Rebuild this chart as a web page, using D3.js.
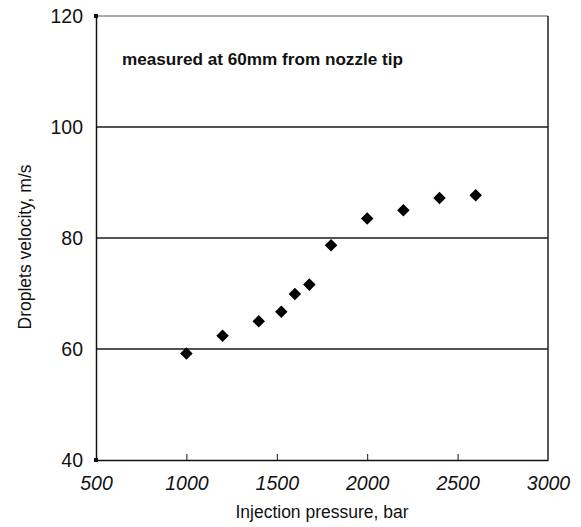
<!DOCTYPE html>
<html>
<head>
<meta charset="utf-8">
<script src="https://cdn.jsdelivr.net/npm/d3@7"></script>
<style>
  html, body { margin: 0; padding: 0; background: #fff; }
  svg { display: block; }
</style>
</head>
<body>
<svg id="chart" width="581" height="527"></svg>
<script>
// Droplet velocity vs injection pressure
const pressure = [1000, 1200, 1400, 1525, 1600, 1680, 1800, 2000, 2200, 2400, 2600];
const velocity = [59.2, 62.4, 65.0, 66.7, 69.9, 71.6, 78.7, 83.5, 85.0, 87.2, 87.7];
const xTicks = [500, 1000, 1500, 2000, 2500, 3000];
const yTicks = [40, 60, 80, 100, 120];
const gridValues = [60, 80, 100];
const note = "measured at 60mm from nozzle tip";
const xTitle = "Injection pressure, bar";
const yTitle = "Droplets velocity, m/s";

const svg = d3.select("#chart");
const plot = { left: 96, right: 548, top: 16, bottom: 460 };
const sans = "Liberation Sans, Arial, sans-serif";

const x = d3.scaleLinear().domain([500, 3000]).range([plot.left, plot.right]);
const y = d3.scaleLinear().domain([40, 120]).range([plot.bottom, plot.top]);

// horizontal grid lines
svg.append("g").selectAll("line").data(gridValues).join("line")
  .attr("x1", plot.left).attr("x2", plot.right)
  .attr("y1", d => y(d)).attr("y2", d => y(d))
  .attr("stroke", "#1a1a1a").attr("stroke-width", 1.4);

// plot frame: top and right
svg.append("line").attr("x1", plot.left).attr("x2", plot.right).attr("y1", plot.top).attr("y2", plot.top)
  .attr("stroke", "#555").attr("stroke-width", 1);
svg.append("line").attr("x1", plot.right).attr("x2", plot.right).attr("y1", plot.top).attr("y2", plot.bottom)
  .attr("stroke", "#222").attr("stroke-width", 1.5);

// x axis with inward ticks
const xAxis = d3.axisBottom(x).tickValues(xTicks).tickFormat(d3.format("d"))
  .tickSizeInner(-6).tickSizeOuter(0).tickPadding(13);
const gx = svg.append("g").attr("transform", `translate(0,${plot.bottom})`).call(xAxis);
gx.select(".domain").attr("stroke", "#111").attr("stroke-width", 1.5);
gx.selectAll(".tick line").attr("stroke", "#111").attr("stroke-width", 1)
  .filter(d => d === 500 || d === 3000).remove();
gx.selectAll(".tick text")
  .attr("font-family", sans)
  .attr("font-size", 19.5).attr("font-style", "italic").attr("fill", "#111")
  .attr("dy", "0.85em");

// y axis
const yAxis = d3.axisLeft(y).tickValues(yTicks).tickSize(0).tickPadding(13);
const gy = svg.append("g").attr("transform", `translate(${plot.left},0)`).call(yAxis);
gy.select(".domain").attr("stroke", "#111").attr("stroke-width", 1.5);
gy.selectAll(".tick text")
  .attr("font-family", sans)
  .attr("font-size", 19.5).attr("fill", "#111");

// small square markers at the y-axis ends
svg.append("g").selectAll("rect").data([40, 120]).join("rect")
  .attr("x", plot.left - 2).attr("y", d => y(d) - 2)
  .attr("width", 4).attr("height", 4).attr("fill", "#111");

// diamond markers
const diamond = d3.symbol().type(d3.symbolDiamond2).size(100);
svg.append("g").selectAll("path").data(pressure).join("path")
  .attr("d", diamond)
  .attr("transform", (d, i) => `translate(${x(d)},${y(velocity[i])})`)
  .attr("fill", "#000");

// annotation
svg.append("text")
  .attr("x", 122).attr("y", 65)
  .attr("font-family", sans)
  .attr("font-weight", "bold").attr("font-size", 16)
  .attr("textLength", 281).attr("lengthAdjust", "spacingAndGlyphs")
  .attr("fill", "#111")
  .text(note);

// axis titles
svg.append("text")
  .attr("x", (plot.left + plot.right) / 2).attr("y", 518)
  .attr("text-anchor", "middle")
  .attr("font-family", sans)
  .attr("font-size", 17.5).attr("fill", "#111")
  .text(xTitle);

svg.append("text")
  .attr("transform", "translate(31,247) rotate(-90)")
  .attr("text-anchor", "middle")
  .attr("font-family", sans)
  .attr("font-size", 17.5).attr("fill", "#111")
  .text(yTitle);
</script>
</body>
</html>
